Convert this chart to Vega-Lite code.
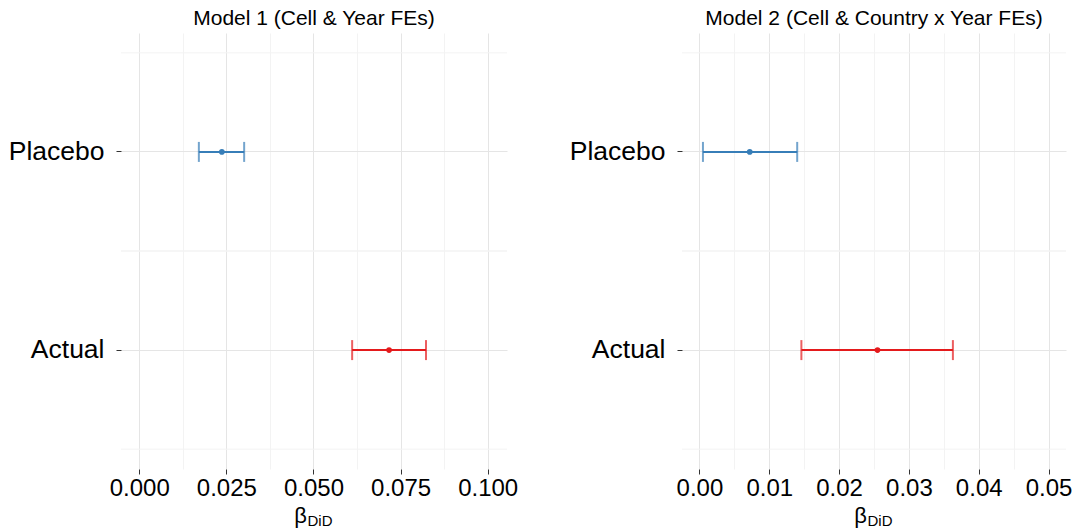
{
  "$schema": "https://vega.github.io/schema/vega-lite/v6.json",
  "padding": {"left": 5, "top": 8, "right": 5, "bottom": 5},
  "background": "white",
  "data": {"values": [
    {"model": "m1", "term": "Placebo", "est": 0.0237, "lower": 0.0171, "upper": 0.0301},
    {"model": "m1", "term": "Actual", "est": 0.0717, "lower": 0.0611, "upper": 0.0823},
    {"model": "m2", "term": "Placebo", "est": 0.0072, "lower": 0.0005, "upper": 0.0140},
    {"model": "m2", "term": "Actual", "est": 0.0255, "lower": 0.0146, "upper": 0.0363}
  ]},
  "config": {
    "font": "Liberation Sans",
    "view": {"stroke": null},
    "title": {"fontSize": 21, "fontWeight": "normal", "color": "black", "baseline": "alphabetic", "offset": 4, "anchor": "middle"},
    "axisY": {"title": null, "labelFontSize": 26.5, "labelColor": "black", "labelPadding": 12, "tickColor": "#333333", "tickSize": 5,
      "domain": false, "grid": true, "gridColor": "#E5E5E5", "minExtent": 116, "maxExtent": 116}
  },
  "spacing": 48,
  "hconcat": [
    {
      "title": "Model 1 (Cell & Year FEs)",
      "width": 386,
      "height": 436,
      "transform": [{"filter": "datum.model === 'm1'"}],
      "resolve": {"axis": {"x": "independent"}},
      "layer": [
        {"mark": {"type": "rule", "strokeWidth": 2},
         "encoding": {
           "x": {"field": "lower", "type": "quantitative",
             "scale": {"domain": [-0.00525, 0.10555], "nice": false, "zero": false},
             "axis": {"orient": "bottom", "title": "β", "titleFontSize": 22, "titleFontWeight": "normal", "titleColor": "black",
               "titleX": 179, "titleY": 53, "titleAlign": "center", "titleBaseline": "alphabetic",
               "values": [0, 0.0125, 0.025, 0.0375, 0.05, 0.0625, 0.075, 0.0875, 0.1],
               "labelExpr": "abs(datum.value*40 - round(datum.value*40)) > 0.01 ? '' : format(datum.value, '.3f')",
               "labelFontSize": 24, "labelColor": "black", "labelPadding": 2, "labelOverlap": false, "labelFlush": false, "labelBound": false,
               "tickColor": "#333333", "tickSize": 5, "tickWidth": 1,
               "tickOpacity": {"condition": {"test": "abs(datum.value*40 - round(datum.value*40)) > 0.01", "value": 0}, "value": 1},
               "grid": true,
               "gridColor": {"condition": {"test": "abs(datum.value*40 - round(datum.value*40)) > 0.01", "value": "#F3F3F3"}, "value": "#E5E5E5"},
               "domain": false}},
           "x2": {"field": "upper"},
           "y": {"field": "term", "type": "nominal",
             "scale": {"type": "band", "domain": ["Placebo", "Actual"], "paddingInner": 0, "paddingOuter": 0.1}},
           "color": {"field": "term", "type": "nominal", "legend": null,
             "scale": {"domain": ["Placebo", "Actual"], "range": ["#377EB8", "#E41A1C"]}}
         }},
        {"mark": {"type": "rule", "color": "#F3F3F3", "strokeWidth": 1},
         "encoding": {"y": {"field": "term", "type": "nominal", "bandPosition": 0}}},
        {"mark": {"type": "rule", "color": "#F3F3F3", "strokeWidth": 1},
         "encoding": {"y": {"field": "term", "type": "nominal", "bandPosition": 1}}},
        {"mark": {"type": "tick", "thickness": 2, "size": 20},
         "encoding": {"x": {"field": "lower", "type": "quantitative", "axis": null},
           "y": {"field": "term", "type": "nominal"},
           "color": {"field": "term", "type": "nominal", "legend": null}}},
        {"mark": {"type": "tick", "thickness": 2, "size": 20},
         "encoding": {"x": {"field": "upper", "type": "quantitative", "axis": null},
           "y": {"field": "term", "type": "nominal"},
           "color": {"field": "term", "type": "nominal", "legend": null}}},
        {"mark": {"type": "point", "filled": true, "size": 32, "opacity": 1},
         "encoding": {"x": {"field": "est", "type": "quantitative",
             "axis": {"orient": "bottom", "title": "DiD", "titleFontSize": 15, "titleFontWeight": "normal", "titleColor": "black",
               "titleX": 186, "titleY": 56, "titleAlign": "left", "titleBaseline": "alphabetic",
               "labels": false, "ticks": false, "grid": false, "domain": false}},
           "y": {"field": "term", "type": "nominal"},
           "color": {"field": "term", "type": "nominal", "legend": null}}}
      ]
    },
    {
      "title": "Model 2 (Cell & Country x Year FEs)",
      "width": 384,
      "height": 436,
      "transform": [{"filter": "datum.model === 'm2'"}],
      "resolve": {"axis": {"x": "independent"}},
      "layer": [
        {"mark": {"type": "rule", "strokeWidth": 2},
         "encoding": {
           "x": {"field": "lower", "type": "quantitative",
             "scale": {"domain": [-0.0025, 0.0525], "nice": false, "zero": false},
             "axis": {"orient": "bottom", "title": "β", "titleFontSize": 22, "titleFontWeight": "normal", "titleColor": "black",
               "titleX": 178, "titleY": 53, "titleAlign": "center", "titleBaseline": "alphabetic",
               "values": [0, 0.005, 0.01, 0.015, 0.02, 0.025, 0.03, 0.035, 0.04, 0.045, 0.05],
               "labelExpr": "abs(datum.value*100 - round(datum.value*100)) > 0.01 ? '' : format(datum.value, '.2f')",
               "labelFontSize": 24, "labelColor": "black", "labelPadding": 2, "labelOverlap": false, "labelFlush": false, "labelBound": false,
               "tickColor": "#333333", "tickSize": 5, "tickWidth": 1,
               "tickOpacity": {"condition": {"test": "abs(datum.value*100 - round(datum.value*100)) > 0.01", "value": 0}, "value": 1},
               "grid": true,
               "gridColor": {"condition": {"test": "abs(datum.value*100 - round(datum.value*100)) > 0.01", "value": "#F3F3F3"}, "value": "#E5E5E5"},
               "domain": false}},
           "x2": {"field": "upper"},
           "y": {"field": "term", "type": "nominal",
             "scale": {"type": "band", "domain": ["Placebo", "Actual"], "paddingInner": 0, "paddingOuter": 0.1}},
           "color": {"field": "term", "type": "nominal", "legend": null,
             "scale": {"domain": ["Placebo", "Actual"], "range": ["#377EB8", "#E41A1C"]}}
         }},
        {"mark": {"type": "rule", "color": "#F3F3F3", "strokeWidth": 1},
         "encoding": {"y": {"field": "term", "type": "nominal", "bandPosition": 0}}},
        {"mark": {"type": "rule", "color": "#F3F3F3", "strokeWidth": 1},
         "encoding": {"y": {"field": "term", "type": "nominal", "bandPosition": 1}}},
        {"mark": {"type": "tick", "thickness": 2, "size": 20},
         "encoding": {"x": {"field": "lower", "type": "quantitative", "axis": null},
           "y": {"field": "term", "type": "nominal"},
           "color": {"field": "term", "type": "nominal", "legend": null}}},
        {"mark": {"type": "tick", "thickness": 2, "size": 20},
         "encoding": {"x": {"field": "upper", "type": "quantitative", "axis": null},
           "y": {"field": "term", "type": "nominal"},
           "color": {"field": "term", "type": "nominal", "legend": null}}},
        {"mark": {"type": "point", "filled": true, "size": 32, "opacity": 1},
         "encoding": {"x": {"field": "est", "type": "quantitative",
             "axis": {"orient": "bottom", "title": "DiD", "titleFontSize": 15, "titleFontWeight": "normal", "titleColor": "black",
               "titleX": 185, "titleY": 56, "titleAlign": "left", "titleBaseline": "alphabetic",
               "labels": false, "ticks": false, "grid": false, "domain": false}},
           "y": {"field": "term", "type": "nominal"},
           "color": {"field": "term", "type": "nominal", "legend": null}}}
      ]
    }
  ]
}
